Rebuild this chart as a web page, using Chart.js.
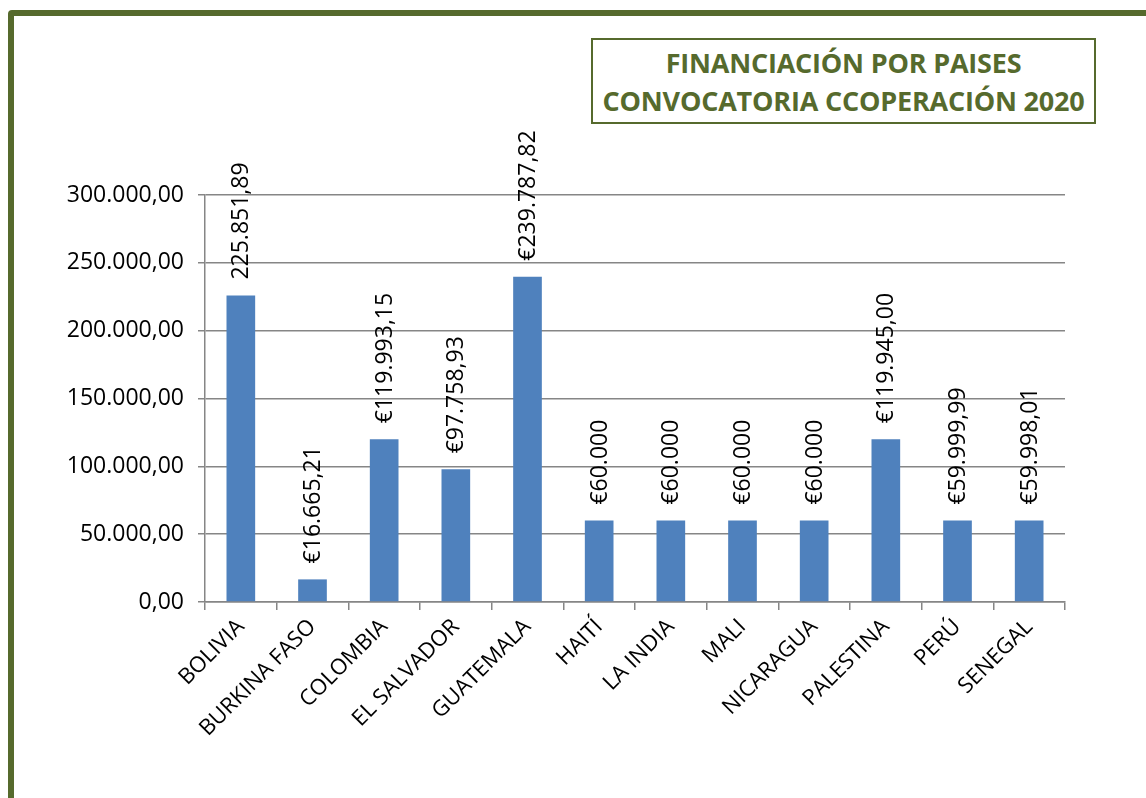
<!DOCTYPE html>
<html lang="es">
<head>
<meta charset="UTF-8">
<title>Financiación por paises</title>
<script src="https://cdn.jsdelivr.net/npm/chart.js@4.4.1/dist/chart.umd.min.js"></script>
<style>
  html, body { margin: 0; padding: 0; width: 1146px; height: 798px; overflow: hidden; background: #fff; }
  #frame {
    position: absolute; left: 8px; top: 10px; width: 1200px; height: 900px;
    border: 6px solid #566a2d; border-radius: 4px; box-sizing: border-box;
  }
  #titleBox {
    position: absolute; left: 591px; top: 38px; width: 505px; height: 86px;
    border: 2px solid #566a2d; box-sizing: border-box; background: #fff;
    font-family: "Open Sans", sans-serif; font-weight: bold; font-size: 27px;
    color: #566a2d; text-align: center; line-height: 38px; padding-top: 4px;
    white-space: nowrap; letter-spacing: -0.2px;
  }
  #wrap { position: absolute; left: 0; top: 0; width: 1146px; height: 798px; }
</style>
</head>
<body>
<div id="frame"></div>
<div id="wrap"><canvas id="chart" width="1146" height="798"></canvas></div>
<div id="titleBox">FINANCIACIÓN POR PAISES<br>CONVOCATORIA CCOPERACIÓN 2020</div>

<script>
  const countries = ['BOLIVIA', 'BURKINA FASO', 'COLOMBIA', 'EL SALVADOR', 'GUATEMALA', 'HAITÍ',
    'LA INDIA', 'MALI', 'NICARAGUA', 'PALESTINA', 'PERÚ', 'SENEGAL'];
  const amounts = [225851.89, 16665.21, 119993.15, 97758.93, 239787.82, 60000,
    60000, 60000, 60000, 119945.00, 59999.99, 59998.01];
  const valueLabels = ['225.851,89', '€16.665,21', '€119.993,15', '€97.758,93', '€239.787,82', '€60.000',
    '€60.000', '€60.000', '€60.000', '€119.945,00', '€59.999,99', '€59.998,01'];

  const FONT = '"Open Sans", sans-serif';
  const GRID = '#868686';

  function fmt(v) {
    let parts = v.toFixed(2).split('.');
    parts[0] = parts[0].replace(/\B(?=(\d{3})+(?!\d))/g, '.');
    return parts[0] + ',' + parts[1];
  }

  // rotated value labels above each bar
  const barLabels = {
    id: 'barLabels',
    afterDatasetsDraw(chart) {
      const ctx = chart.ctx;
      const meta = chart.getDatasetMeta(0);
      ctx.save();
      ctx.font = '23px ' + FONT;
      ctx.fillStyle = '#000';
      ctx.textAlign = 'left';
      ctx.textBaseline = 'middle';
      meta.data.forEach((bar, i) => {
        ctx.save();
        ctx.translate(bar.x + 1, bar.y - 16);
        ctx.rotate(-Math.PI / 2);
        ctx.fillText(valueLabels[i], 0, 0);
        ctx.restore();
      });
      ctx.restore();
    }
  };

  new Chart(document.getElementById('chart').getContext('2d'), {
    type: 'bar',
    data: {
      labels: countries,
      datasets: [{
        data: amounts,
        backgroundColor: '#4f81bd',
        borderWidth: 0,
        categoryPercentage: 1,
        barPercentage: 0.4
      }]
    },
    options: {
      responsive: false,
      animation: false,
      layout: { padding: { left: 0, top: 195, right: 81, bottom: 0 } },
      plugins: {
        legend: { display: false },
        tooltip: { enabled: false }
      },
      scales: {
        y: {
          min: 0,
          max: 300000,
          ticks: {
            stepSize: 50000,
            color: '#000',
            font: { family: FONT, size: 23 },
            padding: 14,
            callback: v => fmt(v)
          },
          grid: { color: GRID, lineWidth: 1.5, tickLength: 7 },
          border: { color: GRID, width: 1.5 },
          afterFit: s => { s.width = 205; }
        },
        x: {
          ticks: {
            color: '#000',
            font: { family: FONT, size: 22 },
            minRotation: 45,
            maxRotation: 45,
            autoSkip: false,
            padding: 4
          },
          grid: { color: GRID, lineWidth: 1.5, drawOnChartArea: false, tickLength: 8 },
          border: { color: GRID, width: 1.5 },
          afterFit: s => { s.height = 196; }
        }
      }
    },
    plugins: [barLabels]
  });
</script>
</body>
</html>
